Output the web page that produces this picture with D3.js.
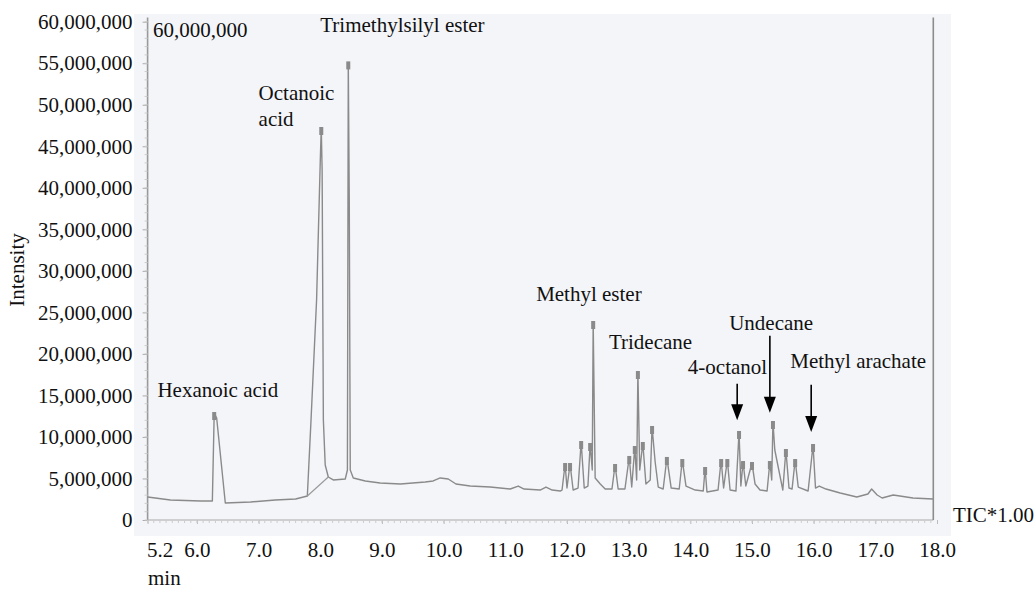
<!DOCTYPE html>
<html>
<head>
  <meta charset="utf-8" />
  <script src="https://d3js.org/d3.v7.min.js"></script>
  <style>
    body { margin: 0; background: #fff; }
    text { font-family: "Liberation Serif", "Times New Roman", serif; fill: #111; }
  </style>
</head>
<body>
  <svg id="chart" width="1035" height="592"></svg>
  <script>
    // retention time (min) and intensity (millions)
    const times = [5.2, 5.57, 6.06, 6.25, 6.28, 6.32, 6.46, 6.87, 7.27, 7.6, 7.79, 7.85, 7.94, 8.0, 8.016, 8.03, 8.05, 8.08, 8.13, 8.21,
      8.405, 8.44, 8.454, 8.47, 8.486, 8.535, 8.73, 8.97, 9.3, 9.7, 9.83, 9.945, 10.075, 10.2, 10.43, 10.755, 11.08, 11.21, 11.305, 11.565,
      11.66, 11.76, 11.89, 11.92, 11.97, 12.0, 12.05, 12.1, 12.18, 12.23, 12.28, 12.34, 12.376, 12.41, 12.425, 12.457, 12.54, 12.62, 12.73, 12.78,
      12.83, 12.94, 13.01, 13.05, 13.1, 13.13, 13.15, 13.18, 13.23, 13.28, 13.35, 13.38, 13.43, 13.48, 13.56, 13.62, 13.69, 13.82, 13.87, 13.93,
      14.08, 14.21, 14.24, 14.27, 14.45, 14.5, 14.54, 14.6, 14.645, 14.74, 14.79, 14.82, 14.855, 14.9, 15.0, 15.05, 15.13, 15.245, 15.29, 15.32,
      15.34, 15.37, 15.5, 15.55, 15.6, 15.65, 15.7, 15.75, 15.91, 15.99, 16.03, 16.09, 16.2, 16.43, 16.7, 16.88, 16.94, 17.03, 17.11, 17.29,
      17.61, 17.935];
    const intensity = [2.77, 2.41, 2.29, 2.29, 12.88, 12.28, 2.05, 2.17, 2.41, 2.53, 2.89, 12.04, 26.5, 43.3, 47.2, 42.1, 12.04, 6.62, 5.18, 4.82,
      4.94, 6.02, 55.1, 38.5, 6.02, 5.06, 4.7, 4.46, 4.33, 4.58, 4.7, 5.06, 4.94, 4.33, 4.09, 3.97, 3.73, 4.09, 3.73, 3.61,
      3.97, 3.61, 3.49, 3.61, 6.74, 3.85, 6.74, 3.61, 3.85, 9.39, 3.85, 4.09, 9.15, 6.02, 23.84, 5.06, 4.33, 3.73, 3.73, 6.62,
      3.73, 3.73, 7.59, 3.97, 8.79, 4.82, 17.82, 6.02, 9.27, 4.33, 4.82, 11.2, 6.98, 3.97, 3.73, 7.47, 3.85, 3.73, 7.22, 4.09,
      3.61, 3.49, 6.26, 3.37, 3.61, 7.22, 3.85, 7.22, 3.61, 3.49, 10.6, 4.09, 6.98, 4.09, 6.86, 4.33, 3.61, 3.49, 6.98, 4.82,
      11.8, 8.43, 3.61, 8.43, 3.85, 3.73, 7.22, 3.97, 3.49, 9.03, 3.85, 4.09, 3.73, 3.25, 2.77, 3.13, 3.73, 3.01, 2.65, 3.01,
      2.65, 2.53];

    // integration baseline drawn under the octanoic acid peak
    const baseSeg = [[7.79, 2.89], [8.13, 5.18]];

    const yTicks = [0, 5, 10, 15, 20, 25, 30, 35, 40, 45, 50, 55, 60];
    const xTicks = [5.2, 6, 7, 8, 9, 10, 11, 12, 13, 14, 15, 16, 17, 18];

    // peak names: anchor time, intensity (M) for the text's left/baseline
    const labelNames = ["Hexanoic acid", "Octanoic", "acid", "Trimethylsilyl ester", "Methyl ester", "Tridecane", "4-octanol", "Undecane", "Methyl arachate"];
    const labelTimes = [5.36, 7.0, 7.0, 8.0, 11.5, 12.68, 13.96, 14.63, 15.62];
    const labelVals = [14.8, 50.6, 47.5, 58.7, 26.4, 20.6, 17.6, 22.9, 18.3];

    // arrows: time, top and tip intensity (M)
    const arrowTimes = [14.76, 15.29, 15.96];
    const arrowTops = [16.4, 22.2, 16.3];
    const arrowTips = [12.0, 12.9, 10.6];

    const svg = d3.select("#chart");
    const x = d3.scaleLinear().domain([5.2, 18]).range([147.6, 937]);
    const y = d3.scaleLinear().domain([0, 60]).range([520, 21.7]);
    const fs = 21;

    // plot background
    svg.append("rect")
      .attr("x", 134).attr("y", 14).attr("width", 817).attr("height", 522)
      .attr("fill", "#f4f5f9");

    // left axis
    const yAxis = svg.append("g")
      .attr("transform", "translate(" + x(5.2) + ",0)")
      .call(d3.axisLeft(y).tickValues(yTicks).tickSize(5).tickPadding(10)
        .tickFormat(d => d3.format(",")(d * 1e6)));
    yAxis.attr("font-family", null);
    yAxis.select(".domain").attr("stroke", "#999").attr("stroke-width", 1.6)
      .attr("d", "M0," + y(60.5) + "V" + y(0));
    yAxis.selectAll(".tick line").attr("stroke", "#aaa");
    yAxis.selectAll("text").style("font-size", fs + "px").attr("fill", "#111");

    // minor ticks on left axis
    svg.append("g").selectAll("line")
      .data(d3.range(0, 60.1, 1))
      .join("line")
      .attr("x1", x(5.2) - 3).attr("x2", x(5.2))
      .attr("y1", d => y(d)).attr("y2", d => y(d))
      .attr("stroke", "#ccc");

    // bottom axis
    const xAxis = svg.append("g")
      .attr("transform", "translate(0," + y(0) + ")")
      .call(d3.axisBottom(x).tickValues(xTicks).tickSize(4).tickPadding(18)
        .tickFormat(d3.format(".1f")));
    xAxis.attr("font-family", null);
    xAxis.select(".domain").attr("stroke", "#aaa").attr("stroke-width", 1.2)
      .attr("d", "M" + x(5.2) + ",0H" + x(17.94));
    xAxis.selectAll(".tick line").attr("stroke", "#bbb");
    xAxis.selectAll("text").style("font-size", fs + "px").attr("fill", "#111")
      .attr("dx", d => d === 5.2 ? 12 : 0);

    svg.append("g").selectAll("line")
      .data(d3.range(5.2, 17.95, 0.1))
      .join("line")
      .attr("x1", d => x(d)).attr("x2", d => x(d))
      .attr("y1", y(0)).attr("y2", y(0) + 3)
      .attr("stroke", "#ccc");

    // right frame line
    svg.append("line")
      .attr("x1", x(17.94)).attr("x2", x(17.94))
      .attr("y1", y(60.5)).attr("y2", y(0))
      .attr("stroke", "#8c8c8c").attr("stroke-width", 1.6);

    // trace
    const trace = times.map((t, i) => [t, intensity[i]]);
    const line = d3.line().x(d => x(d[0])).y(d => y(d[1]));
    svg.append("path")
      .datum(trace)
      .attr("fill", "none")
      .attr("stroke", "#8a8a8a")
      .attr("stroke-width", 1.4)
      .attr("stroke-linejoin", "round")
      .attr("d", line);

    svg.append("path")
      .datum(baseSeg)
      .attr("fill", "none")
      .attr("stroke", "#9a9a9a")
      .attr("stroke-width", 1.2)
      .attr("d", line);

    // peak-top markers
    const tops = trace.filter((d, i) => i > 0 && i < trace.length - 1 &&
      d[1] > 6 && d[1] > trace[i - 1][1] && d[1] > trace[i + 1][1]);
    svg.append("g").selectAll("rect")
      .data(tops)
      .join("rect")
      .attr("x", d => x(d[0]) - 2)
      .attr("y", d => y(d[1]) - 1)
      .attr("width", 4).attr("height", 8)
      .attr("fill", "#8a8a8a");

    // annotations
    svg.append("g").selectAll("text")
      .data(labelNames)
      .join("text")
      .attr("x", (d, i) => x(labelTimes[i]))
      .attr("y", (d, i) => y(labelVals[i]))
      .style("font-size", fs + "px")
      .text(d => d);

    svg.append("text")
      .attr("x", 153).attr("y", 37)
      .style("font-size", fs + "px")
      .text("60,000,000");

    // arrows
    const arrows = svg.append("g");
    arrowTimes.forEach((t, i) => {
      const ax = x(t), top = y(arrowTops[i]), tip = y(arrowTips[i]);
      arrows.append("line")
        .attr("x1", ax).attr("x2", ax)
        .attr("y1", top).attr("y2", tip - 12)
        .attr("stroke", "#000").attr("stroke-width", 1.6);
      arrows.append("path")
        .attr("d", "M" + (ax - 6) + "," + (tip - 16) + "L" + (ax + 6) + "," + (tip - 16) + "L" + ax + "," + tip + "Z")
        .attr("fill", "#000");
    });

    svg.append("text")
      .attr("x", 953).attr("y", 522)
      .style("font-size", fs + "px")
      .text("TIC*1.00");

    svg.append("text")
      .attr("x", 148).attr("y", 585)
      .style("font-size", fs + "px")
      .text("min");

    svg.append("text")
      .attr("transform", "translate(24,270) rotate(-90)")
      .attr("text-anchor", "middle")
      .style("font-size", fs + "px")
      .text("Intensity");
  </script>
</body>
</html>
